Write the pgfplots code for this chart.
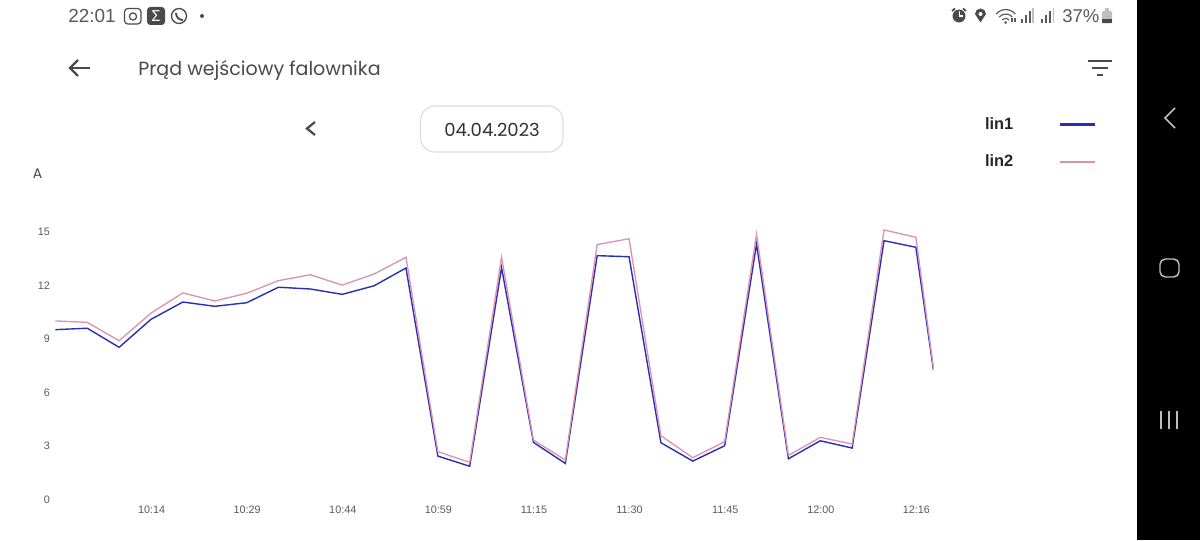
\documentclass[border=0pt]{standalone}
\usepackage{fontspec}
\setmainfont{Liberation Sans}
\newfontfamily\uifont{Poppins}
\newfontfamily\noto{Noto Sans}
\usepackage{pgfplots}
\pgfplotsset{compat=1.18}
\usepackage{pgfplotstable}
\definecolor{linA}{HTML}{2A2FB2}
\definecolor{linB}{HTML}{DE92B2}
\definecolor{ink}{HTML}{4A4A4A}
\definecolor{tick}{HTML}{5A5A5A}
\pgfplotstableread{
i lina linb
0 9.47 9.96
1 9.55 9.88
2 8.48 8.85
3 10.05 10.40
4 11.02 11.53
5 10.78 11.08
6 10.98 11.51
7 11.85 12.22
8 11.75 12.55
9 11.45 11.97
10 11.93 12.59
11 12.93 13.53
12 2.38 2.63
13 1.81 2.03
14 12.95 13.53
15 3.15 3.28
16 1.97 2.16
17 13.62 14.24
18 13.56 14.57
19 3.13 3.52
20 2.10 2.29
21 2.96 3.19
22 14.27 14.82
23 2.23 2.42
24 3.24 3.43
25 2.83 3.06
26 14.46 15.06
27 14.09 14.65
27.55 7.20 7.35
}\datatable
\begin{document}
\begin{tikzpicture}
\useasboundingbox (0,0) rectangle (900pt,405pt);
\fill[white] (0,0) rectangle (900pt,405pt);
\begin{axis}[
  at={(41.55pt,31.1pt)}, anchor=south west,
  scale only axis, width=658.5pt, height=207.3pt,
  xmin=0, xmax=27.55, ymin=0, ymax=15.5,
  axis line style={draw=none}, tick style={draw=none},
  major tick length=0pt,
  xtick={3,6,9,12,15,18,21,24,27},
  xticklabels={10:14,10:29,10:44,10:59,11:15,11:30,11:45,12:00,12:16},
  ytick={0,3,6,9,12,15},
  yticklabels={0,3,6,9,12,15},
  tick label style={font=\fontsize{8.1}{9}\selectfont, text=tick},
  yticklabel style={anchor=east, inner sep=0pt, xshift=-4pt, yshift=-0.6pt},
  xticklabel style={anchor=center, inner sep=0pt, yshift=-8.6pt, xshift=0.4pt},
  legend plot pos=right,
  legend cell align=left,
  legend style={at={(rel axis cs:1,1)}, anchor=north west, xshift=36.75pt, yshift=80.5pt,
    draw=none, fill=none, inner sep=0pt, outer sep=0pt,
    row sep=13.6pt, font=\fontsize{12.3}{14}\selectfont\bfseries},
  legend image code/.code={\draw[#1, line width=1.8pt] (0,0) -- (26pt,0);},
]
\addplot[linA, line width=1.05pt, line join=miter] table[x=i,y=lina] {\datatable};
\addplot[linB, line width=1pt, line join=miter] table[x=i,y=linb] {\datatable};
\legend{\makebox[53.5pt][l]{\color{black!85}lin1},\makebox[53.5pt][l]{\color{black!85}lin2}}
\end{axis}
\begin{scope}[shift={(0,405pt)}, x=0.75pt, y=-0.75pt]
% navigation band
\fill[black] (1137,0) rectangle (1200,540);
\draw[white!75!black, line width=1.1pt] (1175,108) -- (1165,118) -- (1175,128);
\draw[white!75!black, line width=1.1pt, rounded corners=4pt] (1160,259) rectangle (1179,277);
\foreach \x in {1161,1169,1177}{\draw[white!75!black, line width=1pt] (\x,411) -- (\x,429);}
% status bar
\node[anchor=west, inner sep=0pt, text=tick, font=\fontsize{14.2}{15}\selectfont] at (68,16) {22:01};
\draw[ink, line width=0.9pt, rounded corners=2.5pt] (124.5,8.5) rectangle (141,24);
\draw[ink, line width=0.9pt] (133,16.5) circle (3.6);
\fill[ink, rounded corners=2.5pt] (147,7) rectangle (165,25);
\node[text=white, inner sep=0pt, font=\fontsize{11.5}{12}\selectfont\bfseries] at (156,16) {\noto Σ};
\draw[ink, line width=1pt] (179,16) circle (7.5);
\draw[ink, line width=1.4pt] (176,13) .. controls (176,17) and (179,20) .. (183,20);
\fill[ink] (202,16) circle (2);
\node[anchor=west, inner sep=0pt, text=tick, font=\fontsize{13.9}{15}\selectfont] at (1062,16) {37\%};
% alarm
\fill[ink] (959,16) circle (6.5);
\fill[white] (958.5,11) rectangle (960,16.5);
\fill[white] (958.5,15.5) rectangle (963,17);
\draw[ink, line width=1.3pt] (952,11) -- (955,8.5) (966,11) -- (963,8.5);
% pin
\fill[ink] (980.5,22.5) -- (975,14) arc[start angle=180,end angle=360,x radius=5.5,y radius=5.5] -- cycle;
\fill[white] (980.5,14) circle (2);
% wifi
\draw[tick, line width=0.9pt] (996.2,14) arc[start angle=220,end angle=320,radius=12.5];
\draw[tick, line width=0.9pt] (999.2,17) arc[start angle=220,end angle=320,radius=8.5];
\draw[tick, line width=0.9pt] (1002.2,20) arc[start angle=220,end angle=320,radius=4.5];
\fill[tick] (1005.6,22.5) circle (1.4);
\draw[tick, line width=0.8pt] (1012,22) -- (1012,18) (1015,22) -- (1015,18);
% signal
\foreach \x/\h in {1021/4,1025/8,1029/12}{\fill[tick] (\x,23) rectangle ++(2,-\h);}
\fill[lightgray] (1032,23) rectangle (1033.6,8);
\foreach \x/\h in {1041/4,1045/8,1049/12}{\fill[tick] (\x,23) rectangle ++(2,-\h);}
\fill[lightgray] (1052.5,23) rectangle (1054,8);
% battery
\fill[lightgray, rounded corners=1pt] (1102,11) rectangle (1112,23.5);
\fill[lightgray] (1105,8.5) rectangle (1109,11);
\fill[ink] (1102,19) rectangle (1112,23.5);
% header
\draw[ink, line width=1.7pt] (70,68) -- (90,68);
\draw[ink, line width=1.7pt] (78,60) -- (70,68) -- (78,76);
\node[anchor=west, inner sep=0pt, text=ink, font=\fontsize{14.3}{15}\selectfont] at (138,70) {\uifont Prąd wejściowy falownika};
\draw[ink, line width=1.7pt] (1088,61) -- (1112,61);
\draw[ink, line width=1.7pt] (1092,68) -- (1108,68);
\draw[ink, line width=1.7pt] (1097,75) -- (1103,75);
% date
\draw[ink, line width=1.7pt] (315,122) -- (307,128.5) -- (315,135);
\draw[black!13, line width=0.9pt, rounded corners=11pt] (420.5,106) rectangle (563,152);
\node[inner sep=0pt, text=black!80, font=\fontsize{13.5}{14}\selectfont] at (492,129.5) {\uifont 04.04.2023};
\node[inner sep=0pt, text=ink, font=\fontsize{10.5}{12}\selectfont] at (37.5,174) {\uifont A};
\end{scope}
\end{tikzpicture}
\end{document}
